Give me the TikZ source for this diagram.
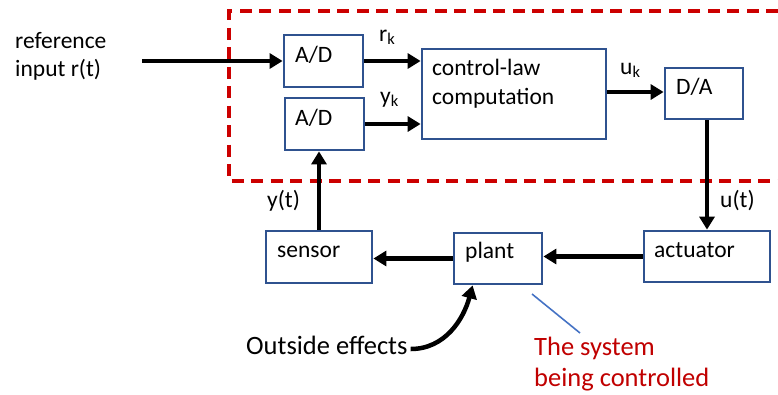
\documentclass[tikz,border=0pt]{standalone}
\usepackage{fontspec}
\setmainfont{Carlito}
\usetikzlibrary{arrows.meta,calc}
\definecolor{boxblue}{RGB}{47,82,143}
\definecolor{dashred}{RGB}{204,0,0}
\definecolor{txtred}{RGB}{192,0,0}
\definecolor{lineblue}{RGB}{68,114,196}
\begin{document}
\begin{tikzpicture}[x=1pt,y=-1pt,
  box/.style={draw=boxblue,line width=2.8pt,fill=white,inner sep=0pt},
  txt/.style={anchor=base west,inner sep=0pt,font=\fontsize{23.5pt}{28pt}\selectfont},
  big/.style={anchor=base west,inner sep=0pt,font=\fontsize{26.5pt}{31pt}\selectfont},
  sig/.style={line width=4.5pt,-{Triangle[length=13pt,width=15pt]}}]
\useasboundingbox (0,0) rectangle (778,394);
% controller boundary
\draw[dashred,line width=3.2pt,dash pattern=on 12pt off 7.5pt] (778,11) -- (229,11) -- (229,181) -- (778,181);
% boxes
\node[box,minimum width=79pt,minimum height=52pt] (ad1) at (323.5,61) {};
\node[box,minimum width=79pt,minimum height=52pt] (ad2) at (324.5,124) {};
\node[box,minimum width=184pt,minimum height=90pt] (clc) at (514,94) {};
\node[box,minimum width=78pt,minimum height=51pt] (da) at (704,93.5) {};
\node[box,minimum width=106pt,minimum height=52pt] (sensor) at (319,257) {};
\node[box,minimum width=88pt,minimum height=51pt] (plant) at (498,258.5) {};
\node[box,minimum width=126pt,minimum height=51pt] (act) at (707,256.5) {};
% box texts
\node[txt] (tad1) at (295,62) {A/D};
\node[txt] (tad2) at (295,125) {A/D};
\node[txt] (tclc1) at (432,75) {control-law};
\node[txt] (tclc2) at (432,104) {computation};
\node[txt] (tda) at (676,94) {D/A};
\node[txt] (tsensor) at (277,257) {sensor};
\node[txt] (tplant) at (465,258) {plant};
\node[txt] (tact) at (654,257) {actuator};
% signal labels
\node[txt] (ref1) at (15,48) {reference};
\node[txt] (ref2) at (15,76) {input r(t)};
\node[txt] (rk) at (379,41) {r\textsubscript{k}};
\node[txt] (yk) at (380,103) {y\textsubscript{k}};
\node[txt] (uk) at (620,74) {u\textsubscript{k}};
\node[txt] (ut) at (720,207) {u(t)};
\node[txt] (yt) at (267,207) {y(t)};
\node[big] (outside) at (246,354) {Outside effects};
\node[big,text=txtred] (sys1) at (534,355) {The system};
\node[big,text=txtred] (sys2) at (534,386) {being controlled};
% connectors
\coordinate (rin) at (142,61);
\draw[sig] (rin) -- (ad1.west);
\draw[sig] (ad1.east) -- (ad1.east -| clc.west);
\draw[sig] (ad2.east) -- (ad2.east -| clc.west);
\draw[sig] ($(clc.east)+(0,-2)$) -- ($(da.west)+(0,-1.5)$);
\draw[sig] (da.south -| act.north) -- (act.north);
\draw[sig] (act.west) -- (act.west -| plant.east);
\draw[sig] (plant.west) -- (plant.west -| sensor.east);
\draw[sig] (sensor.north) -- (sensor.north |- ad2.south);
\coordinate (oe) at ($(plant.south west)+(20,0)$);
\draw[sig] ($(outside.base east)+(3,-5)$) to[out=0,in=255] (oe);
% pointer to plant
\coordinate (pt1) at (532,294);
\coordinate (pt2) at (580,333);
\draw[lineblue,line width=1.6pt] (pt1) -- (pt2);
\end{tikzpicture}
\end{document}
